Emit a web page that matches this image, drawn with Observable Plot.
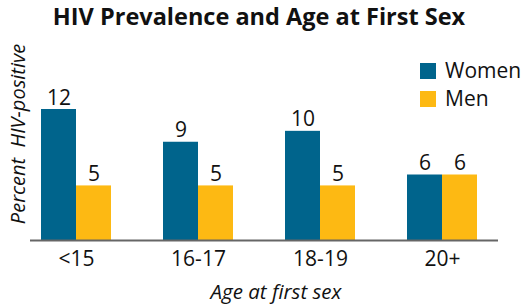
<!DOCTYPE html>
<html><head><meta charset="utf-8">
<script src="https://cdn.jsdelivr.net/npm/d3@7"></script>
<script src="https://cdn.jsdelivr.net/npm/@observablehq/plot@0.6"></script>
<style>
body{margin:0;background:#fff;font-family:"Open Sans",sans-serif;color:#111;}
#wrap{position:relative;width:523px;height:307px;overflow:hidden;background:#fff}
#wrap svg{position:absolute;left:0;top:0}
.abs{position:absolute;white-space:nowrap;line-height:1}
#title{left:259px;top:5px;transform:translateX(-50%);font-weight:bold;font-size:23.5px;}
#ytitle{left:18px;top:134px;transform:translate(-50%,-50%) rotate(-90deg);font-style:italic;font-size:20px;white-space:pre}
#xtitle{left:276px;top:281px;transform:translateX(-50%);font-style:italic;font-size:20.5px}
.leg{position:absolute;left:420px;display:flex;align-items:center;font-size:21px;line-height:1}
.sw{width:16px;height:16px;margin-right:9px}
</style></head><body><div id="wrap"></div>
<script>
const title = "HIV Prevalence and Age at First Sex";
const groups = ["<15", "16-17", "18-19", "20+"];
const series = ["Women", "Men"];
const women = [12, 9, 10, 6];
const men = [5, 5, 5, 6];
const colors = ["#00648c", "#fdb913"];
const xTitle = "Age at first sex";
const yTitle = "Percent  HIV-positive";

const rows = groups.flatMap((g, i) => [
  {group: g, sex: series[0], value: women[i]},
  {group: g, sex: series[1], value: men[i]}
]);
const W = rows.filter(d => d.sex === series[0]);
const M = rows.filter(d => d.sex === series[1]);

const plot = Plot.plot({
  width: 523, height: 307,
  marginLeft: 30, marginRight: 25, marginTop: 109, marginBottom: 67,
  style: {fontFamily: "'Open Sans', sans-serif", fontSize: "21px", color: "#111", background: "transparent"},
  x: {domain: groups, paddingInner: 0.43, paddingOuter: 0.122, align: 1/3, axis: null},
  y: {domain: [0, 12], axis: null},
  marks: [
    Plot.barY(W, {x: "group", y: "value", fill: colors[0], insetRight: 35}),
    Plot.barY(M, {x: "group", y: "value", fill: colors[1], insetLeft: 35}),
    Plot.text(W, {x: "group", y: "value", text: d => String(d.value), dx: -17.5, dy: -5, lineAnchor: "bottom", fill: "#111", fontSize: 21}),
    Plot.text(M, {x: "group", y: "value", text: d => String(d.value), dx: 17.5, dy: -5, lineAnchor: "bottom", fill: "#111", fontSize: 21}),
    Plot.axisX({tickSize: 0, tickPadding: 11, fontSize: 21, fill: "#111", label: null}),
    Plot.ruleY([0], {stroke: "#666", strokeWidth: 2})
  ]
});
const wrap = document.getElementById("wrap");
wrap.appendChild(plot);

function addDiv(id, text) {
  const d = document.createElement("div");
  d.id = id; d.className = "abs"; d.textContent = text;
  wrap.appendChild(d);
}
addDiv("title", title);
addDiv("ytitle", yTitle);
addDiv("xtitle", xTitle);
series.forEach((s, i) => {
  const l = document.createElement("div");
  l.className = "leg";
  l.style.top = (62 + i * 28 - 2) + "px";
  const sw = document.createElement("div");
  sw.className = "sw"; sw.style.background = colors[i];
  const t = document.createElement("span");
  t.textContent = s;
  l.appendChild(sw); l.appendChild(t);
  wrap.appendChild(l);
});
</script></body></html>
